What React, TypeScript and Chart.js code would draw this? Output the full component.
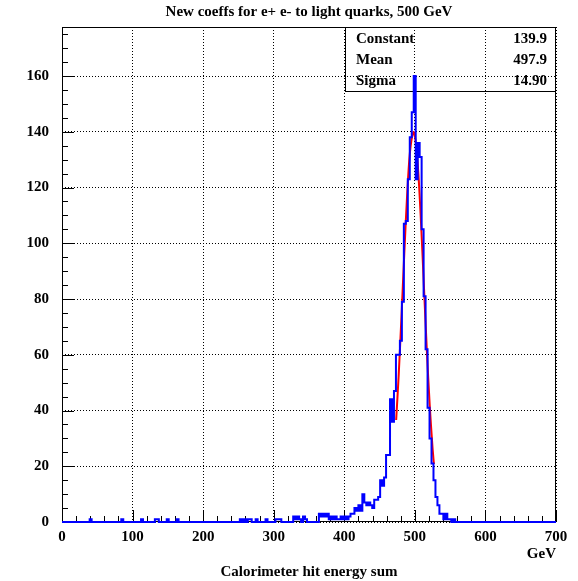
import { useEffect, useRef } from "react";
import { Chart, registerables } from "chart.js";

Chart.register(...registerables);

// ---- text ----
const titleText = "New coeffs for e+ e- to light quarks, 500 GeV";
const xAxisUnit = "GeV";
const xAxisTitle = "Calorimeter hit energy sum";
const statNames = ["Constant", "Mean", "Sigma"];
const statValues = ["139.9", "497.9", "14.90"];

// ---- axes ----
const xMin = 0;
const xMax = 700;
const xMajorStep = 100;
const xMinorDivs = 5;
const yMin = 0;
const yMax = 177.6;
const yMajorStep = 20;
const yMinorDivs = 4;

// ---- histogram (bin width 2.8 GeV, 250 bins) ----
const binWidth = 2.8;
const nBins = 250;
// isolated low-energy bins (bin index) and their counts
const sparseBins = [14, 30, 40, 47, 48, 53, 58, 90, 92, 94, 95, 98, 103, 108, 109, 110, 117, 118, 119, 120, 122, 123, 130, 131, 132, 133, 134, 135, 136, 137, 138, 139];
const sparseCounts = [1, 1, 1, 1, 1, 1, 1, 1, 1, 1, 1, 1, 1, 1, 1, 1, 2, 1, 2, 1, 2, 1, 3, 2, 3, 2, 3, 1, 2, 1, 2, 1];
// peak region counts, starting at bin 140 (392 GeV)
const peakStartBin = 140;
const peakCounts = [
  1, 2, 1, 2, 1, 2, 3, 3, 5, 4,
  6, 4, 10, 7, 6, 7, 6, 5, 8, 8,
  9, 15, 13, 16, 24, 24, 44, 36, 47, 60,
  60, 65, 79, 107, 108, 123, 138, 147, 160, 123,
  136, 131, 105, 81, 62, 41, 30, 21, 15, 9,
  6, 3, 3, 1, 3, 1, 1, 0, 1, 0,
];

// ---- gaussian fit curve ----
const fitX = [473.5, 477, 481, 485, 489, 493, 497.9, 501, 505, 509, 513, 517, 521, 525, 527];
const fitY = [36.6, 52.3, 73.5, 96.2, 117.0, 132.5, 139.9, 136.9, 124.9, 106.0, 83.7, 61.5, 42.1, 26.8, 20.8];

const FONT = "'Liberation Serif', 'Times New Roman', serif";

function buildCounts(): number[] {
  const counts = new Array(nBins).fill(0);
  sparseBins.forEach((b, i) => {
    counts[b] = sparseCounts[i];
  });
  peakCounts.forEach((c, i) => {
    counts[peakStartBin + i] = c;
  });
  return counts;
}

const rootDecor = {
  id: "rootDecor",
  beforeDatasetsDraw(chart: any) {
    const { ctx, chartArea: a, scales } = chart;
    const xs = scales.x;
    const ys = scales.y;
    ctx.save();
    ctx.strokeStyle = "#000";
    ctx.lineWidth = 1;
    ctx.setLineDash([]);
    // frame
    ctx.strokeRect(a.left + 0.5, a.top + 0.5, a.right - a.left - 1, a.bottom - a.top - 1);
    ctx.beginPath();
    // x ticks
    const xMinor = xMajorStep / xMinorDivs;
    const nx = Math.round((xMax - xMin) / xMinor);
    for (let i = 0; i <= nx; i++) {
      const v = xMin + i * xMinor;
      const px = Math.round(xs.getPixelForValue(v)) + 0.5;
      const len = i % xMinorDivs === 0 ? 12 : 6;
      ctx.moveTo(px, a.bottom);
      ctx.lineTo(px, a.bottom - len);
    }
    // y ticks
    const yMinor = yMajorStep / yMinorDivs;
    const ny = Math.floor((yMax - yMin) / yMinor);
    for (let i = 0; i <= ny; i++) {
      const v = yMin + i * yMinor;
      const py = Math.round(ys.getPixelForValue(v)) + 0.5;
      const len = i % yMinorDivs === 0 ? 12 : 6;
      ctx.moveTo(a.left, py);
      ctx.lineTo(a.left + len, py);
    }
    ctx.stroke();

    // stats box
    const boxLeft = 345;
    const boxTop = a.top;
    const boxBottom = 91;
    ctx.strokeRect(boxLeft + 0.5, boxTop + 0.5, a.right - boxLeft - 1, boxBottom - boxTop);
    ctx.fillStyle = "#000";
    ctx.font = `bold 15px ${FONT}`;
    ctx.textBaseline = "middle";
    const rowH = (boxBottom - boxTop) / statNames.length;
    statNames.forEach((name, i) => {
      const cy = boxTop + rowH * (i + 0.5) + 1;
      ctx.textAlign = "left";
      ctx.fillText(name, boxLeft + 11, cy);
      ctx.textAlign = "right";
      ctx.fillText(statValues[i], a.right - 9, cy);
    });

    // title and axis titles
    const cx = (a.left + a.right) / 2;
    ctx.textAlign = "center";
    ctx.fillText(titleText, cx, 12);
    ctx.textAlign = "right";
    ctx.fillText(xAxisUnit, a.right, 554);
    ctx.textAlign = "center";
    ctx.fillText(xAxisTitle, cx, 572);
    ctx.restore();
  },
};

export default function App() {
  const canvasRef = useRef<HTMLCanvasElement | null>(null);

  useEffect(() => {
    const canvas = canvasRef.current;
    if (!canvas) return;
    const counts = buildCounts();
    const histPoints = counts.map((c, i) => ({ x: i * binWidth, y: c }));
    histPoints.push({ x: nBins * binWidth, y: 0 });
    const fitPoints = fitX.map((x, i) => ({ x, y: fitY[i] }));

    const tickFont = { family: FONT, weight: "bold" as const, size: 15 };

    const chart = new Chart(canvas, {
      type: "line",
      data: {
        datasets: [
          {
            data: histPoints,
            borderColor: "#0000ff",
            borderWidth: 2,
            pointRadius: 0,
            stepped: "before",
            fill: false,
            clip: false as any,
            borderJoinStyle: "miter",
          },
          {
            data: fitPoints,
            borderColor: "#ff0000",
            borderWidth: 2,
            pointRadius: 0,
            tension: 0.3,
            fill: false,
          },
        ],
      },
      options: {
        responsive: false,
        maintainAspectRatio: false,
        animation: false,
        layout: { padding: { left: 0, right: 22, top: 27, bottom: 0 } },
        plugins: {
          legend: { display: false },
          tooltip: { enabled: false },
          title: { display: false },
        },
        scales: {
          x: {
            type: "linear",
            min: xMin,
            max: xMax,
            afterFit: (s: any) => {
              s.height = 59;
            },
            ticks: {
              stepSize: xMajorStep,
              font: tickFont,
              color: "#000",
              padding: 6,
              maxRotation: 0,
              autoSkip: false,
            },
            grid: { color: "#000", lineWidth: 1, drawTicks: false },
            border: { display: false, dash: [1, 2] },
          },
          y: {
            type: "linear",
            min: yMin,
            max: yMax,
            afterFit: (s: any) => {
              s.width = 62;
            },
            ticks: {
              stepSize: yMajorStep,
              includeBounds: false,
              font: tickFont,
              color: "#000",
              padding: 13,
            },
            grid: { color: "#000", lineWidth: 1, drawTicks: false },
            border: { display: false, dash: [1, 2] },
          },
        },
      },
      plugins: [rootDecor],
    });
    return () => chart.destroy();
  }, []);

  return (
    <div style={{ position: "fixed", left: 0, top: 0, width: 578, height: 581, background: "#fff" }}>
      <canvas ref={canvasRef} width={578} height={581} style={{ width: 578, height: 581, display: "block" }} />
    </div>
  );
}
